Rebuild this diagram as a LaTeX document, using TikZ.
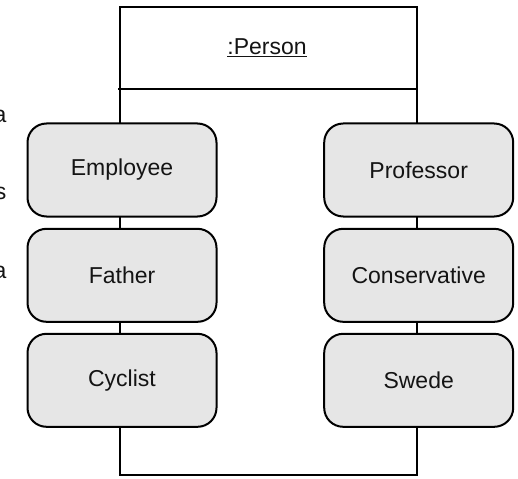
\documentclass[tikz,border=0pt]{standalone}
\usepackage{fontspec}
\setmainfont{Liberation Sans}
\definecolor{rolefill}{HTML}{E6E6E6}
\definecolor{ink}{HTML}{141414}
\begin{document}
\begin{tikzpicture}[x=1pt,y=-1pt,
  every node/.style={font=\fontsize{23}{27}\selectfont, text=ink},
  objline/.style={draw=black, line width=2pt},
  rolebox/.style={draw=black, line width=2pt, fill=rolefill, rounded corners=19pt,
    minimum width=189pt, minimum height=93pt, inner sep=0pt}]
\useasboundingbox (0,0) rectangle (518,478);

% object frame with its name compartment
\coordinate (tl) at (120,6.7);
\coordinate (br) at (416.7,475);
\draw[objline] (tl) rectangle (br);
\coordinate (dl) at (118,89.5);
\coordinate (dr) at (416.7,89.5);
\draw[objline] (dl) -- (dr);
\node (name) at (267,48) {\underline{:Person}};

% clipped letters at the left margin
\node[anchor=base east, inner sep=0pt] (l1) at (6.5,123) {a};
\node[anchor=base east, inner sep=0pt] (l2) at (6.5,199) {s};
\node[anchor=base east, inner sep=0pt] (l3) at (6.5,278) {a};

% roles on the left
\node[rolebox] (employee) at (122,170) {Employee};
\node[rolebox] (father)   at (122,275.3) {Father};
\node[rolebox] (cyclist)  at (122,380.3) {Cyclist};

% roles on the right
\node[rolebox] (professor)    at (418.7,170) {Professor};
\node[rolebox] (conservative) at (418.7,275.3) {Conservative};
\node[rolebox] (swede)        at (418.7,380.3) {Swede};
\end{tikzpicture}
\end{document}
